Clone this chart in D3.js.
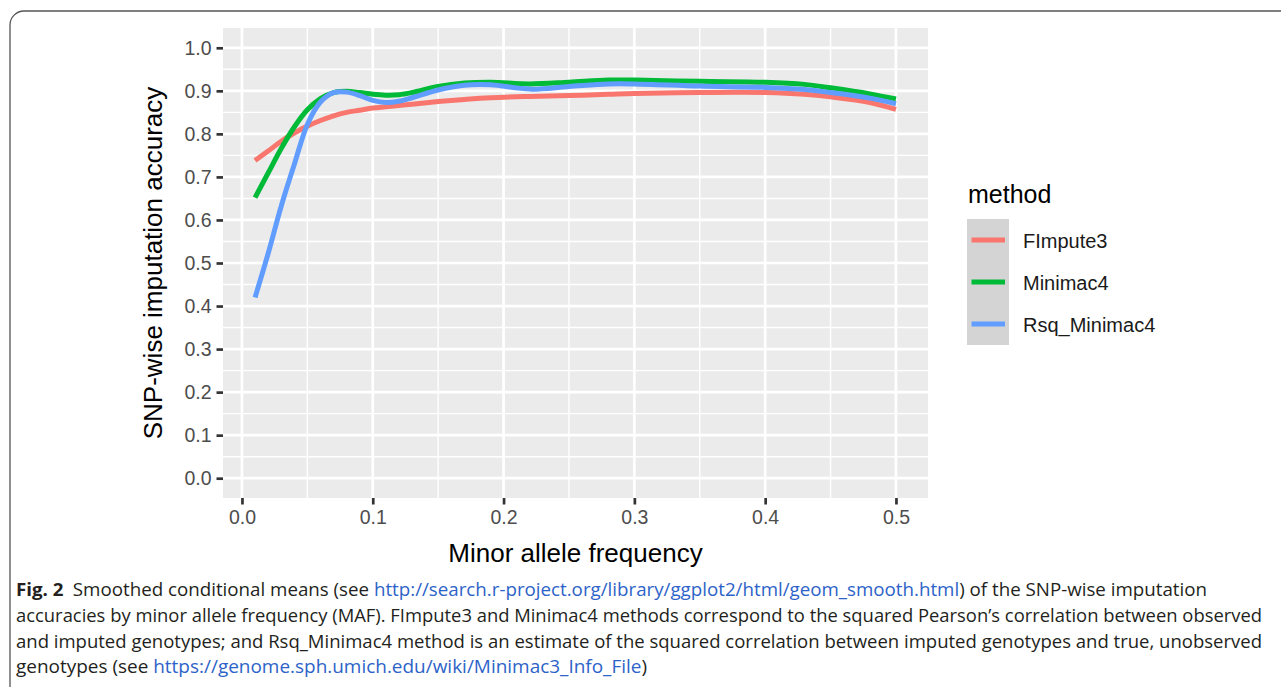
<!DOCTYPE html>
<html>
<head>
<meta charset="utf-8">
<script src="https://cdn.jsdelivr.net/npm/d3@7"></script>
<style>
  body { margin: 0; background: #fff; }
  svg { display: block; }
</style>
</head>
<body>
<div id="fig"></div>
<script>
// minor allele frequency grid the smoothed curves were read at
const mafGrid = [0.01, 0.02, 0.03, 0.04, 0.05, 0.06, 0.07, 0.08, 0.09, 0.10, 0.11, 0.12, 0.13,
    0.15, 0.17, 0.19, 0.22, 0.25, 0.28, 0.30, 0.35, 0.40, 0.43, 0.45, 0.48, 0.50];

const fimpute3 = [.738, .760, .783, .802, .818, .831, .842, .850, .855, .860, .863, .866, .869,
    .875, .880, .884, .887, .889, .892, .894, .896, .896, .892, .886, .873, .857];

const minimac4 = [.652, .709, .766, .816, .856, .882, .896, .899, .896, .892, .890, .891, .896,
    .910, .918, .920, .916, .920, .925, .925, .922, .920, .915, .907, .893, .881];

const rsqMinimac4 = [.420, .522, .632, .729, .822, .874, .896, .897, .889, .878, .873, .876, .884,
    .902, .913, .914, .904, .910, .916, .916, .911, .908, .903, .896, .883, .870];

const methods = ["FImpute3", "Minimac4", "Rsq_Minimac4"];
const methodColors = ["#F8766D", "#00BA38", "#619CFF"];

const xTicks = [0, 0.1, 0.2, 0.3, 0.4, 0.5];
const yTicks = [0, 0.1, 0.2, 0.3, 0.4, 0.5, 0.6, 0.7, 0.8, 0.9, 1.0];

const width = 1281;
const height = 687;
const panel = {left: 223, right: 928, top: 28, bottom: 498};

const svg = d3.select("#fig").append("svg")
    .attr("width", width)
    .attr("height", height);

// figure frame (rounded box running off the page)
svg.append("rect")
    .attr("x", 10).attr("y", 11)
    .attr("width", 1320).attr("height", 720)
    .attr("rx", 14)
    .attr("fill", "none")
    .attr("stroke", "#555")
    .attr("stroke-width", 1.3);

const x = d3.scaleLinear()
    .domain([-0.0145, 0.5245])
    .range([panel.left, panel.right]);

const y = d3.scaleLinear()
    .domain([-0.046, 1.046])
    .range([panel.bottom, panel.top]);

const series = methods.map((name, i) => ({
    name: name,
    color: methodColors[i],
    values: mafGrid.map((m, j) => ({maf: m, acc: [fimpute3, minimac4, rsqMinimac4][i][j]}))
}));

// panel background + grid
svg.append("rect")
    .attr("x", panel.left).attr("y", panel.top)
    .attr("width", panel.right - panel.left)
    .attr("height", panel.bottom - panel.top)
    .attr("fill", "#EBEBEB");

const xMinor = d3.range(0.05, 0.5, 0.1);
const yMinor = d3.range(0.05, 1.0, 0.1);

const grid = svg.append("g").attr("stroke", "#fff");
grid.selectAll(".hminor").data(yMinor).join("line")
    .attr("x1", panel.left).attr("x2", panel.right)
    .attr("y1", d => y(d)).attr("y2", d => y(d))
    .attr("stroke-width", 1.4);
grid.selectAll(".vminor").data(xMinor).join("line")
    .attr("y1", panel.top).attr("y2", panel.bottom)
    .attr("x1", d => x(d)).attr("x2", d => x(d))
    .attr("stroke-width", 1.4);
grid.selectAll(".hmajor").data(yTicks).join("line")
    .attr("x1", panel.left).attr("x2", panel.right)
    .attr("y1", d => y(d)).attr("y2", d => y(d))
    .attr("stroke-width", 2.7);
grid.selectAll(".vmajor").data(xTicks).join("line")
    .attr("y1", panel.top).attr("y2", panel.bottom)
    .attr("x1", d => x(d)).attr("x2", d => x(d))
    .attr("stroke-width", 2.7);

// smoothed lines
const line = d3.line()
    .x(d => x(d.maf))
    .y(d => y(d.acc))
    .curve(d3.curveCatmullRom.alpha(0.5));

svg.append("g").selectAll("path").data(series).join("path")
    .attr("d", d => line(d.values))
    .attr("fill", "none")
    .attr("stroke", d => d.color)
    .attr("stroke-width", 5);

// axes
const fmt = d3.format(".1f");

function xAxis(g) {
    g.attr("transform", `translate(0,${panel.bottom})`)
        .call(d3.axisBottom(x).tickValues(xTicks).tickFormat(fmt).tickSize(6.5).tickPadding(6))
        .call(g => g.select(".domain").remove())
        .call(g => g.selectAll(".tick line").attr("stroke", "#333").attr("stroke-width", 2.7))
        .call(g => g.selectAll(".tick text").attr("fill", "#4D4D4D")
            .attr("font-size", "19.5px").attr("font-family", "'Liberation Sans', Arial, sans-serif"));
}

function yAxis(g) {
    g.attr("transform", `translate(${panel.left},0)`)
        .call(d3.axisLeft(y).tickValues(yTicks).tickFormat(fmt).tickSize(6.5).tickPadding(5))
        .call(g => g.select(".domain").remove())
        .call(g => g.selectAll(".tick line").attr("stroke", "#333").attr("stroke-width", 2.7))
        .call(g => g.selectAll(".tick text").attr("fill", "#4D4D4D")
            .attr("font-size", "19.5px").attr("font-family", "'Liberation Sans', Arial, sans-serif"));
}

svg.append("g").call(xAxis);
svg.append("g").call(yAxis);

svg.append("text")
    .attr("x", (panel.left + panel.right) / 2)
    .attr("y", 562)
    .attr("text-anchor", "middle")
    .attr("font-family", "'Liberation Sans', Arial, sans-serif")
    .attr("font-size", "26px")
    .attr("fill", "#000")
    .text("Minor allele frequency");

svg.append("text")
    .attr("transform", `translate(162,${(panel.top + panel.bottom) / 2}) rotate(-90)`)
    .attr("text-anchor", "middle")
    .attr("font-family", "'Liberation Sans', Arial, sans-serif")
    .attr("font-size", "26px")
    .attr("fill", "#000")
    .text("SNP-wise imputation accuracy");

// legend
const legend = svg.append("g").attr("font-family", "'Liberation Sans', Arial, sans-serif");
legend.append("text")
    .attr("x", 968).attr("y", 203)
    .attr("font-size", "25px")
    .attr("fill", "#000")
    .text("method");

const keyH = 42;
const key = legend.selectAll(".key").data(series).join("g")
    .attr("transform", (d, i) => `translate(967,${219 + i * keyH})`);
key.append("rect")
    .attr("width", 42).attr("height", keyH)
    .attr("fill", "#D4D4D4");
key.append("line")
    .attr("x1", 4.5).attr("x2", 38)
    .attr("y1", keyH / 2).attr("y2", keyH / 2)
    .attr("stroke", d => d.color)
    .attr("stroke-width", 5);
key.append("text")
    .attr("x", 56).attr("y", keyH / 2 + 1)
    .attr("dy", "0.35em")
    .attr("font-size", "20px")
    .attr("fill", "#1a1a1a")
    .text(d => d.name);

// caption
const capFont = "'Open Sans', 'Noto Sans', sans-serif";
const linkColor = "#2d63c8";
const captionLines = [
    {y: 596, len: 1191, parts: [
        {t: "Fig. 2", bold: true},
        {t: "\u2002Smoothed conditional means (see "},
        {t: "http://search.r-project.org/library/ggplot2/html/geom_smooth.html", link: true},
        {t: ") of the SNP-wise imputation"}]},
    {y: 622, len: 1246, parts: [
        {t: "accuracies by minor allele frequency (MAF). FImpute3 and Minimac4 methods correspond to the squared Pearson\u2019s correlation between observed"}]},
    {y: 648, len: 1246, parts: [
        {t: "and imputed genotypes; and Rsq_Minimac4 method is an estimate of the squared correlation between imputed genotypes and true, unobserved"}]},
    {y: 673, len: 631, parts: [
        {t: "genotypes (see "},
        {t: "https://genome.sph.umich.edu/wiki/Minimac3_Info_File", link: true},
        {t: ")"}]}
];

const cap = svg.append("g")
    .attr("font-family", capFont)
    .attr("font-size", "17.5px")
    .attr("fill", "#231f20");

captionLines.forEach(l => {
    const t = cap.append("text")
        .attr("x", 16).attr("y", l.y)
        .attr("textLength", l.len)
        .attr("lengthAdjust", "spacingAndGlyphs");
    l.parts.forEach(p => {
        t.append("tspan")
            .attr("font-weight", p.bold ? 700 : 400)
            .attr("fill", p.link ? linkColor : null)
            .text(p.t);
    });
});
</script>
</body>
</html>
